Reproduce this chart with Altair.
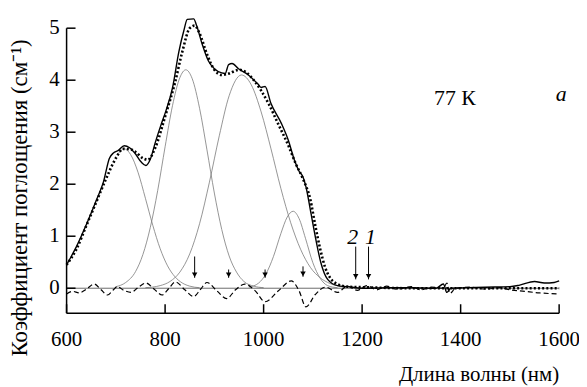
import altair as alt
import pandas as pd

# ---- data ----
wl_1 = [600, 610, 620, 640, 660, 675, 687, 695, 705, 717, 728, 740, 752, 761, 770, 780, 792, 802, 815, 828, 838, 845,
        858, 864, 875, 888, 900, 915, 922, 929, 936, 949, 969, 989, 995, 1003, 1015, 1036, 1050, 1063, 1072, 1080,
        1086, 1096, 1106, 1116, 1130, 1150, 1170, 1200, 1250, 1300, 1350, 1365, 1372, 1380, 1450, 1500, 1520, 1550,
        1570, 1590, 1600]
ab_1 = [0.45, 0.62, 0.8, 1.22, 1.68, 2.05, 2.5, 2.6, 2.65, 2.74, 2.7, 2.58, 2.42, 2.36, 2.48, 2.8, 3.15, 3.42, 3.85,
        4.55, 4.95, 5.17, 5.18, 5.05, 4.7, 4.37, 4.22, 4.14, 4.13, 4.3, 4.32, 4.22, 4.1, 3.92, 3.86, 3.88, 3.55, 3.17,
        2.85, 2.45, 2.25, 2.14, 1.95, 1.45, 0.94, 0.5, 0.17, 0.05, 0.03, 0.0, 0.01, 0.01, 0.0, 0.08, -0.08, 0.0, 0.02,
        0.03, 0.06, 0.13, 0.1, 0.11, 0.14]

wl_2 = [600, 620, 640, 660, 680, 700, 715, 730, 740, 755, 765, 780, 800, 820, 835, 850, 860, 870, 885, 900, 915, 930,
        950, 965, 980, 995, 1010, 1030, 1050, 1065, 1080, 1095, 1105, 1115, 1125, 1135, 1150, 1170, 1200, 1300, 1400,
        1500, 1600]
ab_2 = [0.45, 0.75, 1.2, 1.65, 2.1, 2.5, 2.68, 2.67, 2.62, 2.5, 2.47, 2.7, 3.3, 3.95, 4.55, 5.0, 5.05, 4.9, 4.5, 4.2,
        4.1, 4.13, 4.2, 4.15, 4.0, 3.8, 3.55, 3.15, 2.75, 2.4, 2.1, 1.7, 1.2, 0.75, 0.4, 0.2, 0.08, 0.03, 0.02, 0.0,
        0.0, 0.0, 0.0]

g1_wl = [705, 717, 730, 745, 760, 775, 790, 805, 820, 835, 850, 870]
g1_ab = [2.59, 2.68, 2.57, 2.23, 1.73, 1.21, 0.76, 0.43, 0.22, 0.10, 0.04, 0.01]
g2_wl = [700, 720, 740, 755, 770, 785, 800, 815, 830, 842, 855, 870, 885, 900, 915, 930, 945, 960, 980, 1000]
g2_ab = [0.03, 0.11, 0.32, 0.65, 1.17, 1.88, 2.72, 3.51, 4.05, 4.2, 4.03, 3.46, 2.66, 1.83, 1.13, 0.62, 0.31, 0.13,
         0.04, 0.01]
g3_wl = [760, 790, 810, 830, 850, 870, 890, 910, 930, 955, 975, 995, 1015, 1035, 1055, 1075, 1095, 1115, 1135, 1160]
g3_ab = [0.01, 0.05, 0.13, 0.31, 0.66, 1.24, 2.04, 2.93, 3.70, 4.1, 3.91, 3.39, 2.68, 1.92, 1.26, 0.75, 0.40, 0.20,
         0.09, 0.03]
g4_wl = [970, 990, 1005, 1020, 1035, 1048, 1060, 1072, 1085, 1100, 1115, 1130, 1150]
g4_ab = [0.02, 0.10, 0.28, 0.61, 1.05, 1.37, 1.48, 1.34, 0.96, 0.49, 0.19, 0.05, 0.01]

res_wl = [600, 612, 626, 640, 656, 670, 683, 694, 703, 716, 731, 746, 761, 778, 794, 808, 821, 840, 858, 872, 885,
          905, 925, 943, 962, 983, 1003, 1030, 1056, 1072, 1086, 1105, 1126, 1150, 1170, 1190, 1210, 1230, 1250,
          1270, 1300, 1320, 1340, 1365, 1372, 1378, 1390, 1420, 1450, 1480, 1500, 1530, 1560, 1600]
res_ab = [-0.11, -0.06, -0.09, -0.02, 0.08, -0.03, -0.13, -0.04, 0.03, -0.04, -0.08, 0.02, 0.1, -0.02, -0.13, 0.0,
          0.12, -0.03, -0.16, -0.02, 0.11, -0.05, -0.2, -0.03, 0.08, -0.05, -0.26, -0.05, 0.14, -0.05, -0.36, -0.12,
          0.02, -0.08, 0.04, -0.04, 0.05, -0.03, 0.04, -0.02, 0.03, -0.03, 0.02, 0.0, 0.1, -0.1, 0.0, 0.02, -0.02,
          0.01, -0.03, -0.06, -0.09, -0.11]

arrow_wl = [860, 929, 1003, 1080, 1187, 1213]
arrow_top = [0.61, 0.36, 0.36, 0.42, 0.8, 0.8]
arrow_tip = [0.2, 0.2, 0.2, 0.22, 0.17, 0.17]

x_ticks = [600, 800, 1000, 1200, 1400, 1600]
y_ticks = [0, 1, 2, 3, 4, 5]
x_title = "Длина волны (нм)"
y_title = "Коэффициент поглощения (см⁻¹)"

plain_text = ["77 К"]
plain_x = [1346]
plain_y = [3.66]
ital_text = ["а", "2", "1"]
ital_x = [1604, 1181, 1217]
ital_y = [3.74, 0.99, 0.99]

FONT = "Liberation Serif"
W, H = 496, 287

# ---- frames ----
d1 = pd.DataFrame({"wl": wl_1, "ab": ab_1})
d2 = pd.DataFrame({"wl": wl_2, "ab": ab_2})
gauss = pd.concat([
    pd.DataFrame({"wl": g1_wl, "ab": g1_ab, "band": "1"}),
    pd.DataFrame({"wl": g2_wl, "ab": g2_ab, "band": "2"}),
    pd.DataFrame({"wl": g3_wl, "ab": g3_ab, "band": "3"}),
    pd.DataFrame({"wl": g4_wl, "ab": g4_ab, "band": "4"}),
])
res = pd.DataFrame({"wl": res_wl, "ab": res_ab})
arrows = pd.DataFrame({"wl": arrow_wl, "top": arrow_top, "tip": arrow_tip})
zero = pd.DataFrame({"wl": [x_ticks[0]], "wl2": [x_ticks[-1]], "ab": [0]})
xt = pd.DataFrame({"wl": x_ticks, "lab": [str(v) for v in x_ticks]})
yt = pd.DataFrame({"ab": y_ticks, "lab": [str(v) for v in y_ticks]})
tp = pd.DataFrame({"t": plain_text, "wl": plain_x, "ab": plain_y})
ti = pd.DataFrame({"t": ital_text, "wl": ital_x, "ab": ital_y})
one = pd.DataFrame({"xt": [x_title], "yt": [y_title]})

xs = alt.Scale(domain=[600, 1600], nice=False, zero=False)
ys = alt.Scale(domain=[-0.48, 5], nice=False, zero=False)


def xq(field="wl:Q"):
    return alt.X(field, scale=xs, axis=None)


def yq(field="ab:Q"):
    return alt.Y(field, scale=ys, axis=None)


gl = alt.Chart(gauss).mark_line(color="#7a7a7a", strokeWidth=0.8, interpolate="monotone").encode(
    x=xq(), y=yq(), detail="band:N")

zero_line = alt.Chart(zero).mark_rule(color="#444", strokeWidth=0.8).encode(
    x=xq(), x2="wl2:Q", y=yq())

rl = alt.Chart(res).mark_line(color="black", strokeWidth=1.2, strokeDash=[5, 3], interpolate="monotone").encode(
    x=xq(), y=yq())

l2 = alt.Chart(d2).mark_line(color="black", strokeWidth=2.6, strokeDash=[2, 2.2], interpolate="monotone").encode(
    x=xq(), y=yq())

l1 = alt.Chart(d1).mark_line(color="black", strokeWidth=1.4, interpolate="monotone").encode(
    x=xq(), y=yq())

ar = alt.Chart(arrows).mark_rule(color="black", strokeWidth=1).encode(
    x=xq(), y=yq("top:Q"), y2="tip:Q")
ah = alt.Chart(arrows).mark_point(shape="triangle-down", filled=True, color="black", size=30, opacity=1,
                                  yOffset=-3).encode(
    x=xq(), y=yq("tip:Q"))

# axes drawn from the tick arrays through the scales
x_dom = alt.Chart(one).mark_rule(color="black", strokeWidth=1.5).encode(
    x=alt.value(0), x2=alt.value(W), y=alt.value(H))
y_dom = alt.Chart(one).mark_rule(color="black", strokeWidth=1.5).encode(
    x=alt.value(0), y=alt.value(0), y2=alt.value(H))
xtk = alt.Chart(xt).mark_rule(color="black", strokeWidth=1.5).encode(
    x=xq(), y=alt.value(H), y2=alt.value(H - 9))
ytk = alt.Chart(yt).mark_rule(color="black", strokeWidth=1.5).encode(
    y=yq(), x=alt.value(0), x2=alt.value(9))
xlab = alt.Chart(xt).mark_text(font=FONT, fontSize=21, align="center", baseline="top", color="black").encode(
    x=xq(), y=alt.value(H + 16), text="lab:N")
ylab = alt.Chart(yt).mark_text(font=FONT, fontSize=21, align="right", baseline="middle", color="black").encode(
    y=yq(), x=alt.value(-7), text="lab:N")
xtit = alt.Chart(one).mark_text(font=FONT, fontSize=21, align="right", baseline="alphabetic", color="black").encode(
    x=alt.value(W), y=alt.value(H + 68), text="xt:N")
ytit = alt.Chart(one).mark_text(font=FONT, fontSize=23, align="center", baseline="middle", angle=270,
                                color="black").encode(
    x=alt.value(-47), y=alt.value(171), text="yt:N")

tpl = alt.Chart(tp).mark_text(font=FONT, fontSize=22, align="left", baseline="middle", color="black").encode(
    x=xq(), y=yq(), text="t:N")
til = alt.Chart(ti).mark_text(font=FONT, fontSize=22, fontStyle="italic", align="center", baseline="middle",
                              color="black").encode(
    x=xq(), y=yq(), text="t:N")

chart = alt.layer(gl, zero_line, rl, l2, l1, ar, ah, x_dom, y_dom, xtk, ytk, xlab, ylab, xtit, ytit,
                  tpl, til).properties(
    width=W, height=H,
    padding={"left": 59, "top": 19, "right": 20, "bottom": 72},
    autosize=alt.AutoSizeParams(type="none"),
).configure_view(stroke=None)

chart.save("out.html", embed_options={"renderer": "svg", "actions": False})
